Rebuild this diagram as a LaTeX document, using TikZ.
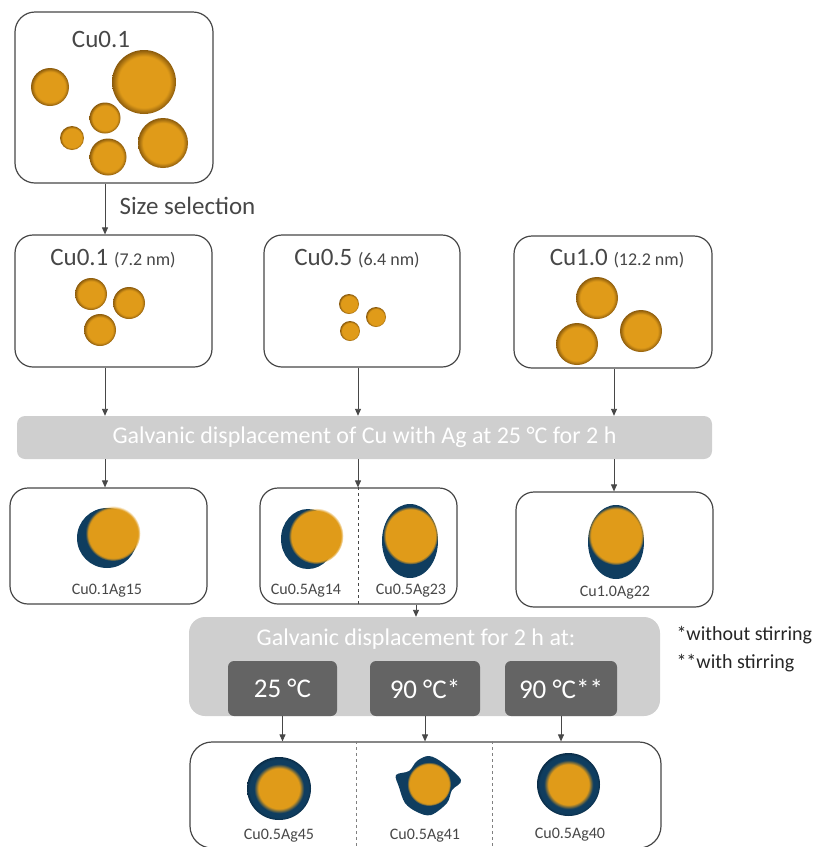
\documentclass[tikz,border=0pt]{standalone}
\usepackage{fontspec}
\setmainfont{Carlito}
\usetikzlibrary{arrows.meta,fadings}
\definecolor{copper}{HTML}{E09B19}
\definecolor{copperedge}{HTML}{8A5A0C}
\definecolor{agshell}{HTML}{0F3D5F}
\definecolor{agdark}{HTML}{0A2C47}
\definecolor{frame}{HTML}{474747}
\definecolor{bandgray}{HTML}{CFCFCF}
\definecolor{stepgray}{HTML}{646464}

\pgfdeclareradialshading{cuball}{\pgfpointorigin}{color(0bp)=(copper); color(20bp)=(copper); color(25bp)=(copperedge); color(50bp)=(copperedge)}
\pgfdeclareradialshading{coreshell}{\pgfpointorigin}{color(0bp)=(copper); color(16bp)=(copper); color(19.5bp)=(agshell); color(23bp)=(agshell); color(25bp)=(agdark); color(50bp)=(agdark)}

\begin{document}
\begin{tikzpicture}[x=1pt, y=-1pt, >={Triangle[length=7pt,width=6pt]}]
\useasboundingbox (0,0) rectangle (819,847);

\tikzstyle{box}=[draw=frame, line width=1.2pt, rounded corners=18pt]
\tikzstyle{band}=[fill=bandgray, text=white, rounded corners=8pt]
\tikzstyle{temp}=[fill=stepgray, text=white, rounded corners=6pt, minimum height=55pt, font=\fontsize{27}{30}\selectfont]
\tikzstyle{arr}=[->, draw=frame, line width=0.9pt]
\tikzstyle{title}=[text=frame, font=\fontsize{25}{28}\selectfont]
\tikzstyle{lbl}=[text=frame, font=\fontsize{16}{18}\selectfont]
\tikzstyle{split}=[draw=frame, dashed, line width=0.8pt]
\tikzstyle{cu}=[copper, path fading=circle with fuzzy edge 10 percent]

% as-made Cu0.1 colloid
\node[box, rounded corners=20pt, minimum width=198pt, minimum height=171pt] (cu) at (114,97.5) {};
\node[title] (cut) at (101,39) {Cu0.1};
\foreach \x/\y/\r in {50/87/19, 144/82/32, 105/118/15.5, 72/138/12, 163/143/25, 108/157/18.5}
  \shade[shading=cuball] (\x,\y) circle (\r);
\node[title, anchor=west] (sel) at (116,206) {Size selection};

% size-selected fractions
\node[box, minimum width=197pt, minimum height=132pt] (c1) at (113.5,301) {};
\node[box, minimum width=196pt, minimum height=132pt] (c5) at (362,301) {};
\node[box, minimum width=198pt, minimum height=132pt] (c10) at (613,302) {};
\node[title] (c1t) at (113,259) {Cu0.1 {\fontsize{18}{20}\selectfont (7.2 nm)}};
\node[title] (c5t) at (357,259) {Cu0.5 {\fontsize{18}{20}\selectfont (6.4 nm)}};
\node[title] (c10t) at (617,259) {Cu1.0 {\fontsize{18}{20}\selectfont (12.2 nm)}};
\foreach \x/\y in {91/294, 129/303, 100/330}
  \shade[shading=cuball] (\x,\y) circle (16);
\foreach \x/\y in {349/304, 376/317, 350/331}
  \shade[shading=cuball] (\x,\y) circle (10);
\foreach \x/\y in {597/298, 577/344, 641/331}
  \shade[shading=cuball] (\x,\y) circle (21);

% first displacement step
\node[band, minimum width=695pt, minimum height=43pt, font=\fontsize{24}{28}\selectfont] (gd) at (364.5,437.5) {Galvanic displacement of Cu with Ag at 25 °C for 2 h};

\node[box, minimum width=197pt, minimum height=116pt] (a15) at (108.5,546) {};
\node[box, minimum width=197pt, minimum height=116pt] (a14) at (358.5,546) {};
\node[box, minimum width=197pt, minimum height=115pt] (a22) at (614.5,549.5) {};
\draw[split] (a14.north) -- (a14.south);

\fill[agshell] (107,538) circle (30);
\fill[cu] (113,533.5) circle (27.5);
\fill[agshell] (308,539) ellipse (27 and 30);
\fill[cu] (316,536) ellipse (27.5 and 28);
\fill[agshell] (410,541) ellipse (28 and 37);
\fill[cu] (410.5,535.5) ellipse (27.5 and 29);
\fill[agshell] (616,542) ellipse (28 and 37);
\fill[cu] (616,535.5) ellipse (28 and 29.5);

\node[lbl] (l15) at (107,591) {Cu0.1Ag15};
\node[lbl] (l14) at (306,591) {Cu0.5Ag14};
\node[lbl] (l23) at (411,591) {Cu0.5Ag23};
\node[lbl] (l22) at (615,593) {Cu1.0Ag22};

% second displacement step
\node[band, rounded corners=16pt, minimum width=471pt, minimum height=99pt] (gd2) at (424.5,666.5) {};
\node[text=white, font=\fontsize{24}{28}\selectfont] (gd2t) at (416,639) {Galvanic displacement for 2 h at:};
\node[temp, minimum width=109pt] (t25) at (282.5,688.5) {25 °C};
\node[temp, minimum width=110pt] (t90) at (425,688.5) {90 °C*};
\node[temp, minimum width=112pt] (t90s) at (561,688.5) {90 °C**};

\node[anchor=west, text=black!85, font=\fontsize{20}{22}\selectfont] (fn1) at (673,635) {*without stirring};
\node[anchor=west, text=black!85, font=\fontsize{20}{22}\selectfont] (fn2) at (673,663) {**with stirring};

\node[box, rounded corners=22pt, minimum width=471pt, minimum height=106pt] (res) at (425.5,795) {};
\draw[split, draw=gray] (res.north -| 356,0) -- (res.south -| 356,0);
\draw[split, draw=gray] (res.north -| 492,0) -- (res.south -| 492,0);

\shade[shading=coreshell] (279,788.5) ellipse (32 and 31.5);
\fill[agshell] plot[smooth cycle, tension=0.55] coordinates {(429,756) (443,763) (461,780) (452,790) (447,803) (431,815) (417,812) (405,803) (399,787) (396,775) (409,771) (417,761)};
\fill[cu] (429,784) circle (22);
\shade[shading=coreshell] (568.5,784.5) circle (31.5);

\node[lbl] (l45) at (279,836) {Cu0.5Ag45};
\node[lbl] (l41) at (425,836) {Cu0.5Ag41};
\node[lbl] (l40) at (570,835) {Cu0.5Ag40};

% connectors
\draw[arr] (cu.south -| 105,0) -- (c1.north -| 105,0);
\draw[arr] (c1.south -| 105,0) -- (gd.north -| 105,0);
\draw[arr] (c5.south -| 358,0) -- (gd.north -| 358,0);
\draw[arr] (c10.south -| 614,0) -- (gd.north -| 614,0);
\draw[arr] (gd.south -| 105,0) -- (a15.north -| 105,0);
\draw[arr] (gd.south -| 358,0) -- (a14.north -| 358,0);
\draw[arr] (gd.south -| 614,0) -- (a22.north -| 614,0);
\draw[arr] (a14.south -| 416,0) -- (gd2.north -| 416,0);
\draw[arr] (t25.south) -- (t25.south |- res.north);
\draw[arr] (t90.south) -- (t90.south |- res.north);
\draw[arr] (t90s.south) -- (t90s.south |- res.north);

\end{tikzpicture}
\end{document}
